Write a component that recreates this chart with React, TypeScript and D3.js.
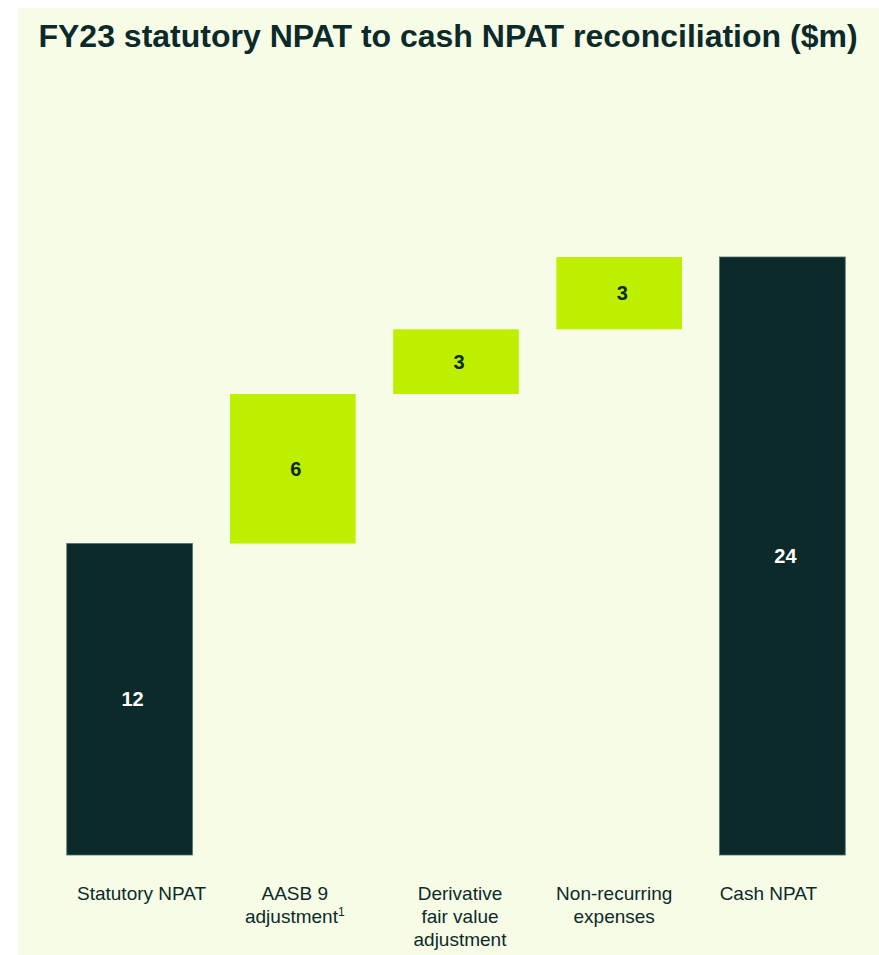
import React from "react";
import * as d3 from "d3";

const categories = ["Statutory NPAT", "AASB 9 adjustment", "Derivative fair value adjustment", "Non-recurring expenses", "Cash NPAT"];
const values = [12.5, 6.0, 2.6, 2.9, 24.0];
const kinds = ["total", "delta", "delta", "delta", "total"];
const valueLabels = ["12", "6", "3", "3", "24"];
const tickLines = [["Statutory NPAT"], ["AASB 9", "adjustment"], ["Derivative", "fair value", "adjustment"], ["Non-recurring", "expenses"], ["Cash NPAT"]];
const footnoteOn = [false, true, false, false, false];

const W = 879;
const H = 955;
const DARK = "#0c2a2a";
const LIME = "#bfef00";
const BG = "#f6fce6";
const FONT = "'Liberation Sans', Arial, sans-serif";
const labelDx = [12, 2, 4, -5, -14];

export default function App() {
  const x = d3.scaleBand<string>().domain(categories).range([48, 864]).paddingInner(0.23).paddingOuter(0.115);
  const y = d3.scaleLinear().domain([0, 24]).range([855, 257]);

  let run = 0;
  const bars = categories.map((c, i) => {
    let y0: number, y1: number;
    if (kinds[i] === "total") {
      y0 = 0;
      y1 = values[i];
      run = values[i];
    } else {
      y0 = run;
      y1 = run + values[i];
      run = y1;
    }
    return { c, i, y0, y1 };
  });

  return (
    <svg width={W} height={H} style={{ position: "absolute", left: 0, top: 0 }}>
      <rect x={18} y={8} width={W - 18} height={H - 8} fill={BG} />
      <text x={448} y={47} textAnchor="middle" fontFamily={FONT} fontWeight="bold" fontSize={32} fill={DARK}>
        FY23 statutory NPAT to cash NPAT reconciliation ($m)
      </text>
      {bars.map((b) => {
        const bx = x(b.c)!;
        const top = y(b.y1);
        const bot = y(b.y0);
        const isTotal = kinds[b.i] === "total";
        return (
          <g key={b.c}>
            <rect x={bx} y={top} width={x.bandwidth()} height={bot - top} fill={isTotal ? DARK : LIME}
              stroke={isTotal ? "#4f6e66" : "none"} strokeWidth={isTotal ? 0.8 : 0} />
            <text x={bx + x.bandwidth() / 2 + 3} y={(top + bot) / 2 + 7} textAnchor="middle" fontFamily={FONT}
              fontWeight="bold" fontSize={20} fill={isTotal ? "#ffffff" : DARK}>
              {valueLabels[b.i]}
            </text>
          </g>
        );
      })}
      {categories.map((c, i) => {
        const cx = x(c)! + x.bandwidth() / 2 + labelDx[i];
        return (
          <text key={c} textAnchor="middle" fontFamily={FONT} fontSize={19} fill={DARK}>
            {tickLines[i].map((ln, j) => (
              <tspan key={j} x={cx} y={900 + j * 23}>
                {ln}
                {footnoteOn[i] && j === tickLines[i].length - 1 ? (
                  <tspan fontSize={12} dy={-7}>1</tspan>
                ) : null}
              </tspan>
            ))}
          </text>
        );
      })}
    </svg>
  );
}
